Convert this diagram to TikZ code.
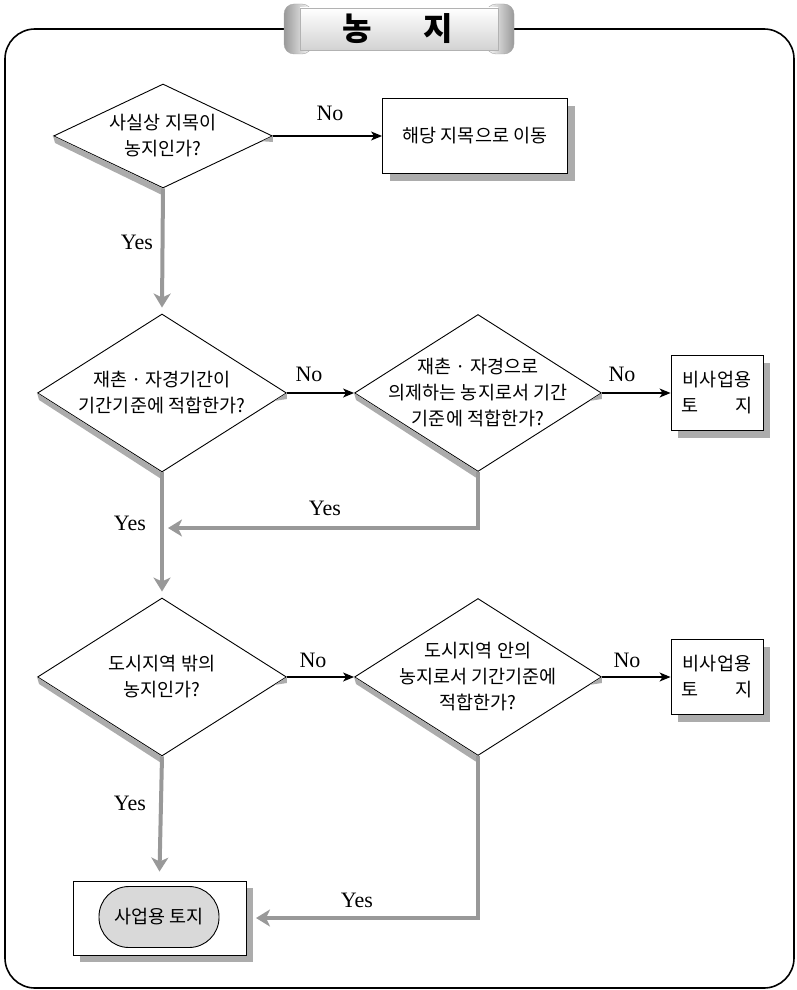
\documentclass[tikz,border=0pt]{standalone}
\usepackage{fontspec}
\setmainfont{Liberation Serif}
\newfontfamily\kr{Noto Sans CJK KR}
\usetikzlibrary{shapes.geometric, shadows, arrows.meta, calc}
\tikzstyle{decision}=[diamond, draw, fill=white, line width=0.9pt, inner sep=0pt, minimum width=249pt, minimum height=158pt]
\tikzstyle{qtext}=[font=\kr\fontsize{18.5pt}{26pt}\selectfont, align=center]
\tikzstyle{result}=[rectangle, draw, fill=white, line width=0.9pt, align=center, font=\kr\fontsize{18.5pt}{26pt}\selectfont, drop shadow={shadow xshift=7pt, shadow yshift=-7pt, fill=gray!65, opacity=1}]
\tikzstyle{terminal}=[rectangle, draw, fill=gray!30, line width=0.9pt, rounded corners=30pt, minimum width=120pt, minimum height=61pt, font=\kr\fontsize{18.5pt}{26pt}\selectfont]
\tikzstyle{answer}=[font=\fontsize{22pt}{22pt}\selectfont]
\tikzstyle{yesline}=[draw=gray!80, line width=4pt, -{Stealth[length=14pt, width=17pt, inset=4pt]}]
\tikzstyle{noline}=[line width=1.2pt, -{Stealth[length=11pt, width=9pt, inset=3pt]}]
\newcommand{\ask}{\node[decision]}
\newcommand{\dshadow}[1]{%
  \fill[gray!65] (#1.west) -- (#1.south) -- ([yshift=-7pt]#1.south) -- ([xshift=2pt, yshift=-7pt]#1.west) -- cycle;
  \fill[gray!65] (#1.east) -- ([yshift=-6pt]#1.east) -- ($(#1.east)!0.1!(#1.south)$) -- cycle;}

\begin{document}
\begin{tikzpicture}[x=1pt, y=-1pt]
\useasboundingbox (0,0) rectangle (797,990);
% frame and title
\draw[line width=1.6pt, rounded corners=30pt] (5,29) rectangle (794,988);
\shade[left color=gray!80, right color=white, rounded corners=10pt, draw=gray!70] (284,4) rectangle (312,54);
\shade[left color=white, right color=gray!80, rounded corners=10pt, draw=gray!70] (486,4) rectangle (514,54);
\shade[top color=white, bottom color=gray!35, draw=gray!60] (300,8) rectangle (498,50);
\node[font=\kr\bfseries\fontsize{32pt}{32pt}\selectfont] (title) at (398,29) {농\hspace{1.6em}지};

% first row
\ask (q1) at (163,136) [minimum width=219pt, minimum height=104pt, label={[qtext]center:{사실상 지목이\\농지인가?}}] {};
\node[result, minimum width=185pt, minimum height=75pt] (b1) at (475,136) {해당 지목으로 이동};
\draw[noline] (q1.east) -- (b1.west);
\node[answer] (no1) at (330,113) {No};
\node[answer] (yes1) at (137,242) {Yes};

% second row
\ask (q2) at (162,393) [label={[qtext]center:{재촌 · 자경기간이\\기간기준에 적합한가?}}] {};
\ask (q3) at (478,393) [minimum width=247pt, minimum height=157pt, label={[qtext]center:{재촌 · 자경으로\\의제하는 농지로서 기간\\기준에 적합한가?}}] {};
\node[result, minimum width=92pt, minimum height=75pt] (n1) at (717,393) {비사업용\\토\hspace{2em}지};
\draw[noline] (q2.east) -- (q3.west);
\draw[noline] (q3.east) -- (n1.west);
\node[answer] (no2) at (309,374) {No};
\node[answer] (no3) at (622,374) {No};

% third row
\ask (q4) at (162,677) [label={[qtext]center:{도시지역 밖의\\농지인가?}}] {};
\ask (q5) at (478,677) [minimum width=247pt, minimum height=157pt, label={[qtext]center:{도시지역 안의\\농지로서 기간기준에\\적합한가?}}] {};
\node[result, minimum width=92pt, minimum height=75pt] (n2) at (717,677) {비사업용\\토\hspace{2em}지};
\draw[noline] (q4.east) -- (q5.west);
\draw[noline] (q5.east) -- (n2.west);
\node[answer] (no4) at (313,660) {No};
\node[answer] (no5) at (627,660) {No};

% result
\node[result, minimum width=173pt, minimum height=74pt] (fin) at (159.5,918) {};
\node[terminal] (use) at (159,917) {사업용 토지};

\dshadow{q1}
\dshadow{q2}
\dshadow{q3}
\dshadow{q4}
\dshadow{q5}

% yes connectors
\coordinate (j1) at (168,528);
\coordinate (j2) at (256,918);
\draw[yesline] (q1.south) -- ([yshift=6pt]q2.north);
\draw[yesline] (q2.south) -- ([yshift=6pt]q4.north);
\draw[yesline] (q4.south) -- ([yshift=9pt]fin.north);
\draw[yesline] (q3.south) |- (j1);
\draw[yesline] (q5.south) |- (j2);
\node[answer] (yes2) at (130,523) {Yes};
\node[answer] (yes3) at (325,508) {Yes};
\node[answer] (yes4) at (130,803) {Yes};
\node[answer] (yes5) at (357,900) {Yes};
\end{tikzpicture}
\end{document}
